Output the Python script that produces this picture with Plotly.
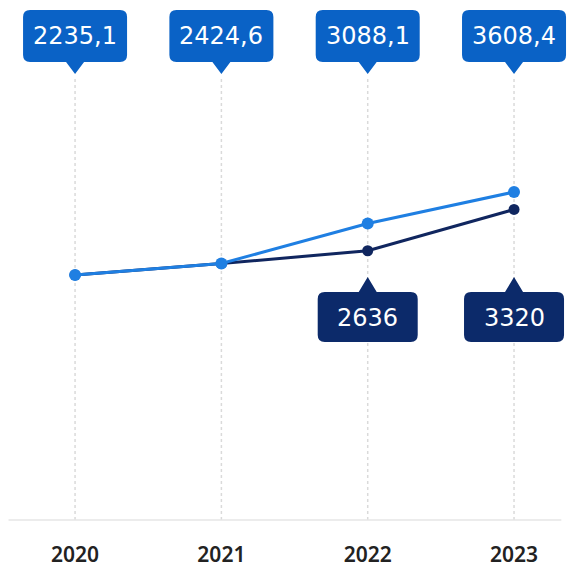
import plotly.graph_objects as go

years = ["2020", "2021", "2022", "2023"]
series_light = [2235.1, 2424.6, 3088.1, 3608.4]
series_dark = [2235.1, 2424.6, 2636, 3320]
labels_light = ["2235,1", "2424,6", "3088,1", "3608,4"]
labels_dark = ["", "", "2636", "3320"]

LIGHT = "#1f7fe2"
LIGHT_BOX = "#0a62c6"
DARK = "#10265f"
DARK_BOX = "#0c2a6a"

W, H = 567, 569
PLOT_H = 520
xs = list(range(len(years)))

fig = go.Figure()
fig.add_trace(go.Scatter(x=xs, y=series_dark, mode="lines+markers",
                         line=dict(color=DARK, width=3),
                         marker=dict(color=DARK, size=11), hoverinfo="skip"))
fig.add_trace(go.Scatter(x=xs, y=series_light, mode="lines+markers",
                         line=dict(color=LIGHT, width=3),
                         marker=dict(color=LIGHT, size=12), hoverinfo="skip"))


def bubble_down(w, top, bottom, tip, r=7, tw=9):
    hw = w / 2
    p = f"M{-hw + r},{top} L{hw - r},{top} Q{hw},{top} {hw},{top - r} "
    p += f"L{hw},{bottom + r} Q{hw},{bottom} {hw - r},{bottom} "
    p += f"L{tw},{bottom} L0,{tip} L{-tw},{bottom} "
    p += f"L{-hw + r},{bottom} Q{-hw},{bottom} {-hw},{bottom + r} "
    p += f"L{-hw},{top - r} Q{-hw},{top} {-hw + r},{top} Z"
    return p


def bubble_up(w, top, bottom, tip, r=7, tw=9):
    hw = w / 2
    p = f"M{-hw + r},{top} L{-tw},{top} L0,{tip} L{tw},{top} L{hw - r},{top} Q{hw},{top} {hw},{top - r} "
    p += f"L{hw},{bottom + r} Q{hw},{bottom} {hw - r},{bottom} "
    p += f"L{-hw + r},{bottom} Q{-hw},{bottom} {-hw},{bottom + r} "
    p += f"L{-hw},{top - r} Q{-hw},{top} {-hw + r},{top} Z"
    return p


shapes = []
for x in xs:
    shapes.append(dict(type="line", xref="x", yref="paper", x0=x, x1=x,
                       y0=0, y1=1 - 78 / PLOT_H, layer="below",
                       line=dict(color="#dadada", width=1.5, dash="dot")))
shapes.append(dict(type="line", xref="paper", yref="paper", x0=0.015, x1=0.99,
                   y0=0, y1=0, layer="below", line=dict(color="#e6e6e6", width=1.5)))

annotations = []
for x, lab in zip(xs, labels_light):
    shapes.append(dict(type="path", xref="x", yref="paper", xsizemode="pixel",
                       ysizemode="pixel", xanchor=x, yanchor=1,
                       path=bubble_down(104, -10, -62, -74),
                       fillcolor=LIGHT_BOX, line=dict(width=0)))
    annotations.append(dict(x=x, y=1, xref="x", yref="paper", text=lab,
                            showarrow=False, yanchor="middle", yshift=-36,
                            font=dict(family="DejaVu Sans", size=24, color="white",
                                      weight=500)))
for x, lab in zip(xs, labels_dark):
    if not lab:
        continue
    shapes.append(dict(type="path", xref="x", yref="paper", xsizemode="pixel",
                       ysizemode="pixel", xanchor=x, yanchor=1,
                       path=bubble_up(100, -292, -342, -277),
                       fillcolor=DARK_BOX, line=dict(width=0)))
    annotations.append(dict(x=x, y=1, xref="x", yref="paper", text=lab,
                            showarrow=False, yanchor="middle", yshift=-318,
                            font=dict(family="DejaVu Sans", size=24, color="white",
                                      weight=500)))

fig.update_layout(
    width=W, height=H,
    margin=dict(l=0, r=0, t=0, b=H - PLOT_H),
    plot_bgcolor="white", paper_bgcolor="white",
    showlegend=False,
    shapes=shapes, annotations=annotations,
    xaxis=dict(range=[-0.513, 3.362], tickmode="array", tickvals=xs, ticktext=years,
               showgrid=False, zeroline=False, showline=False, ticks="",
               ticklabelstandoff=20,
               tickfont=dict(family="Noto Sans", size=21, color="#222222", weight=600)),
    yaxis=dict(range=[-1820, 6786], showgrid=False, zeroline=False,
               showticklabels=False, showline=False),
)

fig.write_html("out.html", config={"displayModeBar": False},
               post_script="document.body.style.margin='0';document.body.style.overflow='hidden';")
